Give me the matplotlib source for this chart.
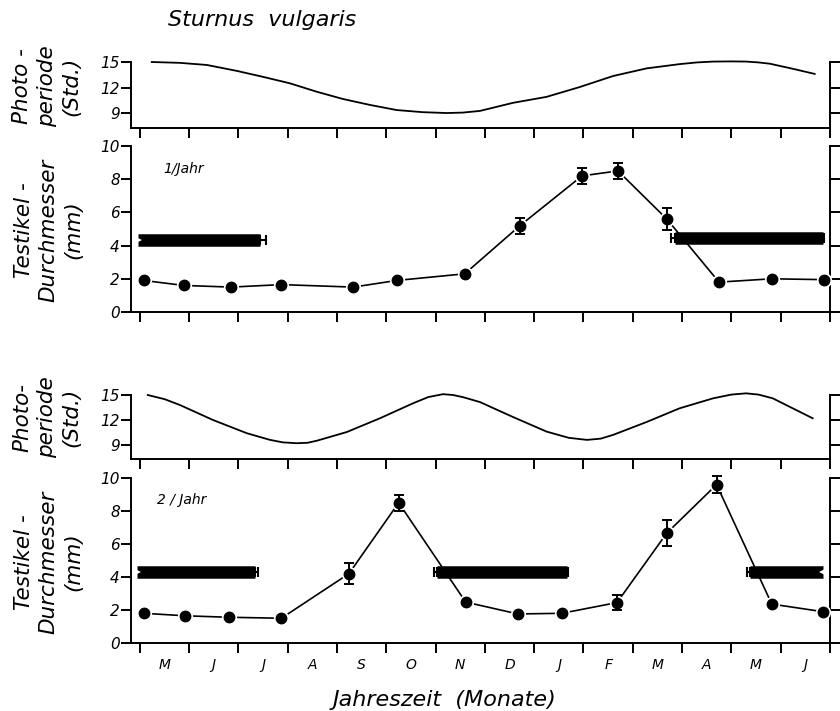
import numpy as np
import matplotlib.pyplot as plt

plt.rcParams['font.family'] = ['DejaVu Sans']
plt.rcParams['font.style'] = 'italic'

months = ['M', 'J', 'J', 'A', 'S', 'O', 'N', 'D', 'J', 'F', 'M', 'A', 'M', 'J']

# Photoperiode (Std.), x in Monaten ab Anfang Mai
photo1_x = [0.24, 0.81, 1.36, 1.97, 2.5, 3.04, 3.59, 4.12, 4.67, 5.21, 5.74, 6.23, 6.55, 6.9,
            7.57, 8.25, 8.92, 9.6, 10.28, 10.95, 11.3, 11.63, 12.0, 12.3, 12.55, 12.78, 13.25, 13.69]
photo1_h = [15.0, 14.9, 14.65, 13.95, 13.25, 12.5, 11.5, 10.65, 9.95, 9.35, 9.1, 9.0, 9.05, 9.25,
            10.2, 10.9, 12.05, 13.35, 14.25, 14.75, 14.95, 15.05, 15.07, 15.05, 14.95, 14.8, 14.2, 13.6]

photo2_x = [0.16, 0.5, 0.81, 1.48, 2.17, 2.64, 2.9, 3.18, 3.4, 3.59, 4.2, 4.87, 5.54, 5.85, 6.15,
            6.35, 6.55, 6.9, 7.57, 8.25, 8.7, 9.07, 9.35, 9.6, 10.28, 10.95, 11.63, 12.0, 12.3,
            12.55, 12.84, 13.65]
photo2_h = [15.0, 14.5, 13.8, 12.0, 10.4, 9.6, 9.3, 9.2, 9.25, 9.5, 10.55, 12.2, 14.0, 14.75, 15.1,
            15.0, 14.75, 14.15, 12.35, 10.6, 9.85, 9.6, 9.75, 10.2, 11.75, 13.4, 14.6, 15.05, 15.2,
            15.05, 14.6, 12.2]

# Testikel-Durchmesser (mm)
testis1_x = [0.08, 0.89, 1.85, 2.87, 4.33, 5.21, 6.59, 7.71, 8.97, 9.70, 10.69, 11.75, 12.82, 13.87]
testis1_y = [1.9, 1.6, 1.5, 1.65, 1.5, 1.9, 2.3, 5.2, 8.2, 8.5, 5.6, 1.8, 2.0, 1.95]
testis1_err = [0, 0, 0, 0, 0, 0, 0, 0.48, 0.5, 0.5, 0.66, 0, 0, 0]

testis2_x = [0.08, 0.91, 1.80, 2.87, 4.24, 5.25, 6.61, 7.67, 8.56, 9.68, 10.69, 11.70, 12.82, 13.85]
testis2_y = [1.8, 1.65, 1.56, 1.5, 4.2, 8.5, 2.48, 1.76, 1.8, 2.45, 6.66, 9.6, 2.36, 1.9]
testis2_err = [0, 0, 0, 0, 0.64, 0.5, 0, 0, 0, 0.48, 0.8, 0.5, 0, 0]

# schwarze Balken
bars1_start = [-0.04, 10.85]
bars1_end = [2.43, 13.85]
bars1_y = [4.35, 4.45]
bars1_err_lo = [0, 0.07]
bars1_err_hi = [0.12, 0.04]
bars1_open_lo = [True, False]
bars1_open_hi = [False, False]

bars2_start = [-0.06, 6.02, 12.37]
bars2_end = [2.33, 8.66, 13.85]
bars2_y = [4.3, 4.3, 4.3]
bars2_err_lo = [0, 0.06, 0.06]
bars2_err_hi = [0.07, 0.03, 0]
bars2_open_lo = [True, False, False]
bars2_open_hi = [False, False, True]

fig = plt.figure(figsize=(8.4, 7.11), dpi=100)

L, W = 0.156, 0.832
XMIN, XMAX = -0.18, 14


def style_axes(ax):
    ax.set_xlim(XMIN, XMAX)
    ax.spines['top'].set_visible(False)
    for s in ['left', 'right', 'bottom']:
        ax.spines[s].set_linewidth(1.4)
    ax.set_xticks(np.arange(0, 15))
    ax.tick_params(axis='both', which='major', direction='out', length=7, width=1.4,
                   labelsize=11, pad=1)
    ax.tick_params(axis='y', right=True, labelright=False)
    ax.tick_params(axis='x', labelbottom=False)


def photo_panel(bottom, height, xs, hs, ylo):
    ax = fig.add_axes([L, bottom, W, height])
    style_axes(ax)
    ax.plot(xs, hs, color='black', lw=1.3, clip_on=False)
    ax.set_ylim(ylo, 15)
    ax.set_yticks([9, 12, 15])
    return ax


def testis_panel(bottom, height, xs, ys, errs, bstart, bend, by, elo, ehi, olo, ohi, tag):
    ax = fig.add_axes([L, bottom, W, height])
    style_axes(ax)
    ax.set_ylim(0, 10)
    ax.set_yticks([0, 2, 4, 6, 8, 10])
    for x0, x1, y, e0, e1, o0, o1 in zip(bstart, bend, by, elo, ehi, olo, ohi):
        ax.hlines(y, x0, x1, color='black', lw=9, capstyle='butt', zorder=2)
        if e0 > 0:
            ax.errorbar([x0], [y], xerr=[[e0], [0]], fmt='none', ecolor='black',
                        elinewidth=1.5, capsize=3.5, capthick=1.5, zorder=2)
        if e1 > 0:
            ax.errorbar([x1], [y], xerr=[[0], [e1]], fmt='none', ecolor='black',
                        elinewidth=1.5, capsize=3.5, capthick=1.5, zorder=2)
        if o0:
            ax.plot([x0], [y], marker='>', ms=6, color='white', mew=0, zorder=3)
        if o1:
            ax.plot([x1], [y], marker='<', ms=6, color='white', mew=0, zorder=3)
    ax.plot(xs, ys, color='black', lw=1.2, zorder=4, clip_on=False)
    ax.plot(xs, ys, 'o', color='white', ms=11, mew=0, zorder=5, clip_on=False)
    e = np.array(errs, dtype=float)
    m = e > 0
    ax.errorbar(np.array(xs)[m], np.array(ys)[m], yerr=e[m], fmt='none', ecolor='black',
                elinewidth=1.4, capsize=3.5, capthick=1.4, zorder=6, clip_on=False)
    ax.plot(xs, ys, 'o', color='black', ms=7.5, zorder=7, clip_on=False)
    return ax


photo_panel(1 - 128 / 711, 66 / 711, photo1_x, photo1_h, 7.24)
ax2 = testis_panel(1 - 312 / 711, 166 / 711, testis1_x, testis1_y, testis1_err,
                   bars1_start, bars1_end, bars1_y, bars1_err_lo, bars1_err_hi,
                   bars1_open_lo, bars1_open_hi, '1/Jahr')
ax2.text(0.046, 0.84, '1/Jahr', transform=ax2.transAxes, fontsize=10)
photo_panel(1 - 459 / 711, 64 / 711, photo2_x, photo2_h, 7.3)
ax4 = testis_panel(1 - 643 / 711, 165 / 711, testis2_x, testis2_y, testis2_err,
                   bars2_start, bars2_end, bars2_y, bars2_err_lo, bars2_err_hi,
                   bars2_open_lo, bars2_open_hi, '2 / Jahr')
ax4.text(0.037, 0.84, '2 / Jahr', transform=ax4.transAxes, fontsize=10)

ax4.set_xticks(np.arange(14) + 0.5, minor=True)
ax4.set_xticklabels(months, minor=True)
ax4.tick_params(axis='x', which='minor', length=0, labelsize=10, pad=11, labelbottom=True)

fig.text(0.312, 1 - 20 / 711, 'Sturnus  vulgaris', fontsize=16, ha='center', va='center')

ylab_kw = dict(rotation=90, ha='center', va='center', fontsize=15.5,
               multialignment='center', linespacing=1.3)
fig.text(0.056, 1 - 86 / 711, 'Photo -\nperiode\n(Std.)', **ylab_kw)
fig.text(0.058, 1 - 230 / 711, 'Testikel -\nDurchmesser\n(mm)', **ylab_kw)
fig.text(0.056, 1 - 417 / 711, 'Photo-\nperiode\n(Std.)', **ylab_kw)
fig.text(0.058, 1 - 562 / 711, 'Testikel -\nDurchmesser\n(mm)', **ylab_kw)

fig.text(0.529, 1 - 700 / 711, 'Jahreszeit  (Monate)', fontsize=16, ha='center', va='center')

fig.savefig('out.png', dpi=100)
